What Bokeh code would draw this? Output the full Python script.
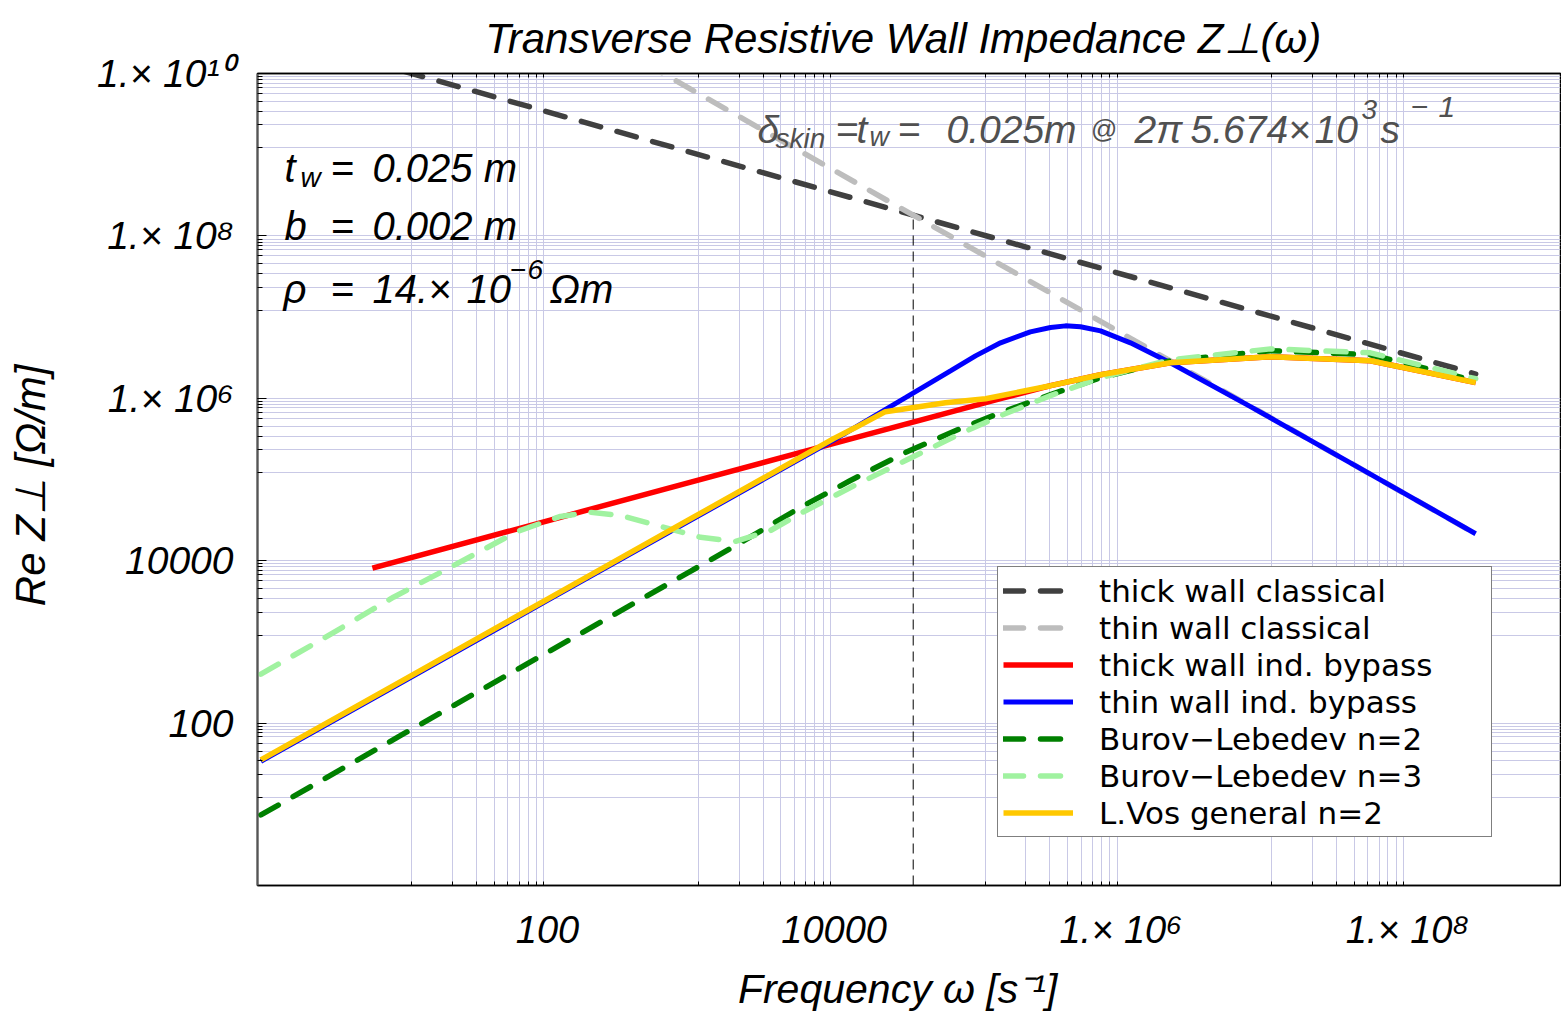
from bokeh.plotting import figure
from bokeh.models import (Range1d, FixedTicker, LogAxis, Legend, LegendItem,
                          ColumnDataSource)
from bokeh.core.properties import value
from bokeh.embed import file_html
from bokeh.resources import INLINE

# ---------------- data ----------------
omega_thick_classical = [1.0, 3.565e4, 3.0e8]
z_thick_classical = [3.35e10, 1.8e8, 1.99e6]

omega_thin_classical = [1.0e2, 3.565e4, 3.0e8]
z_thin_classical = [6.4e10, 1.8e8, 2.14e4]

omega_thick_bypass = [6.0, 1.0e2, 1.0e3, 1.0e4, 1.45e5, 3.24e5, 7.23e5,
                      2.22e6, 1.11e7, 5.53e7, 3.0e8]
z_thick_bypass = [8.1e3, 3.1e4, 9.3e4, 2.78e5, 9.9e5, 1.43e6, 1.95e6,
                  2.74e6, 3.24e6, 2.90e6, 1.56e6]

omega_thin_bypass = [1.0, 10.0, 1.0e2, 1.0e3, 1.0e4, 3.15e4, 6.49e4, 9.7e4,
                     1.45e5, 2.34e5, 3.24e5, 4.12e5, 5.24e5, 7.23e5, 1.17e6,
                     2.22e6, 8.05e6, 4.01e7, 3.0e8]
z_thin_bypass = [33.8, 330, 3.24e3, 3.16e4, 3.08e5, 1.02e6, 2.18e6, 3.33e6,
                 4.82e6, 6.58e6, 7.46e6, 7.80e6, 7.59e6, 6.76e6, 4.82e6,
                 2.74e6, 7.9e5, 1.6e5, 2.15e4]

omega_bl2 = [1.0, 10.0, 1.0e2, 1.0e3, 2.22e3, 5.82e3, 1.30e4, 3.15e4, 7.62e4,
             1.45e5, 3.24e5, 7.23e5, 2.22e6, 1.11e7, 5.53e7, 3.0e8]
z_bl2 = [7.4, 74.5, 745, 7.45e3, 1.66e4, 4.53e4, 9.73e4, 2.15e5, 4.24e5,
         6.65e5, 1.11e6, 1.79e6, 2.90e6, 3.85e6, 3.44e6, 1.64e6]

omega_bl3 = [1.0, 2.61, 8.41, 21.0, 61.8, 123, 200, 324, 615, 1170, 2050,
             3610, 5820, 1.30e4, 3.15e4, 7.62e4, 1.45e5, 3.24e5, 7.23e5,
             2.22e6, 1.11e7, 5.53e7, 3.0e8]
z_bl3 = [402, 1052, 3548, 8300, 2.30e4, 3.51e4, 3.94e4, 3.61e4, 2.65e4,
         1.94e4, 1.73e4, 2.36e4, 3.82e4, 7.98e4, 1.71e5, 3.67e5, 6.11e5,
         1.08e6, 1.79e6, 2.98e6, 4.06e6, 3.63e6, 1.74e6]

omega_vos = [1.0, 10.0, 1.0e2, 1.0e3, 1.0e4, 1.41e4, 2.28e4, 3.15e4, 5.98e4,
             1.14e5, 3.24e5, 7.23e5, 2.22e6, 1.11e7, 5.53e7, 3.0e8]
z_vos = [35.2, 344, 3.37e3, 3.29e4, 3.21e5, 4.36e5, 6.84e5, 7.45e5, 8.83e5,
         9.89e5, 1.43e6, 1.95e6, 2.74e6, 3.24e6, 2.90e6, 1.56e6]

omega_skin = 35651.0          # 2*pi*5.674e3
z_skin_top = 1.8e8

title_text = "Transverse Resistive Wall Impedance  Z\u22a5(\u03c9)"
series_labels = ["thick wall classical", "thin wall classical",
                 "thick wall ind. bypass", "thin wall ind. bypass",
                 "Burov\u2212Lebedev n=2", "Burov\u2212Lebedev n=3",
                 "L.Vos general n=2"]

x_major_ticks = [1e2, 1e4, 1e6, 1e8]
x_tick_labels = ["100", "10000", "1.\u00d7 10\u2076", "1.\u00d7 10\u2078"]
y_major_ticks = [1e2, 1e4, 1e6, 1e8, 1e10]
y_tick_labels = ["100", "10000", "1.\u00d7 10\u2076", "1.\u00d7 10\u2078",
                 "1.\u00d7 10\u00b9\u2070"]

x_grid_mult = [1.13, 2.18, 3.2, 4.25, 5.3, 6.35, 7.33, 8.38, 9.44]
x_grid_decades = [1, 3, 5, 7]
y_grid_mult = [1.21, 2.33, 3.43, 4.52, 5.67, 6.75, 7.6, 8.4, 9.15, 10.0]
y_grid_decades = [1, 3, 5, 7, 9]

# ---------------- layout ----------------
FONT = "Liberation Sans"
X0, DX = 260.4, 143.3        # page px of omega = 1, px per decade
Y0, DY = 886.0, 81.4         # page px of Z = 1,   px per decade


def wx(px):
    return 10 ** ((px - X0) / DX)


def zy(py):
    return 10 ** ((Y0 - py) / DY)


p = figure(width=1561, height=1014, x_axis_type="log", y_axis_type="log",
           x_range=Range1d(wx(257), wx(1560)), y_range=Range1d(1, 1e10),
           output_backend="svg", toolbar_location=None,
           min_border_left=257, min_border_right=1, min_border_top=72,
           min_border_bottom=128)
p.background_fill_color = "white"
p.border_fill_color = "white"
p.outline_line_color = "black"
p.outline_line_width = 1.5

x_grid_vals = [m * 10 ** d for d in x_grid_decades for m in x_grid_mult]
y_grid_vals = [m * 10 ** d for d in y_grid_decades for m in y_grid_mult]

p.xgrid.ticker = FixedTicker(ticks=x_grid_vals)
p.ygrid.ticker = FixedTicker(ticks=y_grid_vals)
for g in (p.xgrid, p.ygrid):
    g.grid_line_color = "#c9c9e6"
    g.grid_line_width = 1

xa = p.xaxis[0]
xa.ticker = FixedTicker(ticks=x_major_ticks, minor_ticks=x_grid_vals)
xa.major_label_overrides = {int(t): l for t, l in zip(x_major_ticks, x_tick_labels)}
xa.major_tick_in = 0
xa.major_tick_out = 0
xa.minor_tick_in = 4
xa.minor_tick_out = 0
xa.axis_line_color = "black"
xa.axis_line_width = 1.5
xa.major_label_text_font = FONT
xa.major_label_text_font_style = "italic"
xa.major_label_text_font_size = "38px"
xa.major_label_text_color = "black"
xa.major_label_standoff = 23
xa.axis_label = "Frequency  \u03c9  [s\u207b\u00b9]"
xa.axis_label_text_font = FONT
xa.axis_label_text_font_style = "italic"
xa.axis_label_text_font_size = "41px"
xa.axis_label_text_color = "black"
xa.axis_label_standoff = 12

ya = p.yaxis[0]
ya.ticker = FixedTicker(ticks=y_major_ticks, minor_ticks=y_grid_vals)
ya.major_label_overrides = {int(t): l for t, l in zip(y_major_ticks, y_tick_labels)}
ya.major_tick_in = 9
ya.major_tick_out = 0
ya.minor_tick_in = 5
ya.minor_tick_out = 0
ya.axis_line_color = "#555555"
ya.axis_line_width = 2
ya.major_label_text_font = FONT
ya.major_label_text_font_style = "italic"
ya.major_label_text_font_size = "39px"
ya.major_label_text_color = "black"
ya.major_label_standoff = 24
ya.axis_label = "Re Z\u22a5  [\u03a9/m]"
ya.axis_label_text_font = FONT
ya.axis_label_text_font_style = "italic"
ya.axis_label_text_font_size = "42px"
ya.axis_label_text_color = "black"
ya.axis_label_standoff = 40

top_axis = LogAxis(ticker=FixedTicker(ticks=[], minor_ticks=x_grid_vals),
                   major_tick_in=0, major_tick_out=0, minor_tick_in=4,
                   minor_tick_out=0, major_label_standoff=0,
                   axis_line_color="black", axis_line_width=1.5)
p.add_layout(top_axis, "above")

p.title.text = title_text
p.title.text_font = FONT
p.title.text_font_style = "italic"
p.title.text_font_size = "42px"
p.title.text_color = "black"
p.title.align = "center"
p.title.offset = 9
p.title.standoff = 24

# ---------------- curves ----------------
DASH = "20 17"
p.segment(x0=[omega_skin], y0=[1], x1=[omega_skin], y1=[z_skin_top],
          line_color="black", line_width=1, line_dash="10 6")

r1 = p.line(omega_thick_classical, z_thick_classical, line_color="#404040",
            line_width=5.5, line_dash=DASH, line_cap="round")
r2 = p.line(omega_thin_classical, z_thin_classical, line_color="#bdbdbd",
            line_width=5.5, line_dash=DASH, line_cap="round")
r3 = p.line(omega_thick_bypass, z_thick_bypass, line_color="#ff0000",
            line_width=5.5)
r4 = p.line(omega_thin_bypass, z_thin_bypass, line_color="#0000ff",
            line_width=5)
r5 = p.line(omega_bl2, z_bl2, line_color="#008000", line_width=5.5,
            line_dash=DASH, line_cap="round")
r6 = p.line(omega_bl3, z_bl3, line_color="#a0f2a0", line_width=5.5,
            line_dash=DASH, line_cap="round")
r7 = p.line(omega_vos, z_vos, line_color="#ffc800", line_width=5.5)

legend = Legend(items=[LegendItem(label=l, renderers=[r])
                       for l, r in zip(series_labels, [r1, r2, r3, r4, r5, r6, r7])],
                location=(740, 48), glyph_width=70, glyph_height=37,
                label_height=37, label_width=387, label_standoff=26,
                padding=5, spacing=0, margin=0,
                label_text_font="DejaVu Sans", label_text_font_size="31px",
                label_text_color="black",
                border_line_color="black", border_line_width=1.5,
                background_fill_color="white", background_fill_alpha=1.0)
p.add_layout(legend)

# ---------------- annotation texts ----------------
def add_texts(pieces, color):
    src = ColumnDataSource(dict(
        x=[wx(px) for _, px, _, _ in pieces],
        y=[zy(py) for _, _, py, _ in pieces],
        text=[t for t, _, _, _ in pieces],
        size=["%dpx" % s for _, _, _, s in pieces]))
    p.text(x="x", y="y", text="text", source=src, text_font=value(FONT),
           text_font_style="italic", text_font_size="size",
           text_color=color, text_align="left", text_baseline="alphabetic")

params = [("t", 284, 167, 40), ("w", 300, 176, 28), ("=", 330, 167, 40),
          ("0.025 m", 372, 167, 40),
          ("b", 284, 225, 40), ("=", 330, 225, 40), ("0.002 m", 372, 225, 40),
          ("\u03c1", 283, 288, 40), ("=", 330, 288, 40),
          ("14.\u00d7", 372, 288, 40), ("10", 466, 288, 40),
          ("\u2212", 509, 268, 28), ("6", 527, 268, 28),
          ("\u03a9m", 549, 288, 40)]
add_texts(params, "black")

skin = [("\u03b4", 757, 128, 39), ("skin", 775, 137, 28), ("=", 835, 128, 39),
        ("t", 856, 128, 39), ("w", 869, 136, 27), ("=", 897, 128, 39),
        ("0.025m", 946, 128, 39), ("@", 1090, 128, 26), ("2\u03c0", 1134, 128, 39),
        ("5.674\u00d7", 1190, 128, 39), ("10", 1314, 128, 39),
        ("3", 1361, 108, 28), ("s", 1380, 128, 39),
        ("\u2212", 1410, 106, 30), ("1", 1438, 106, 30)]
add_texts(skin, "#505050")

open("out.html", "w").write(file_html(p, INLINE))
